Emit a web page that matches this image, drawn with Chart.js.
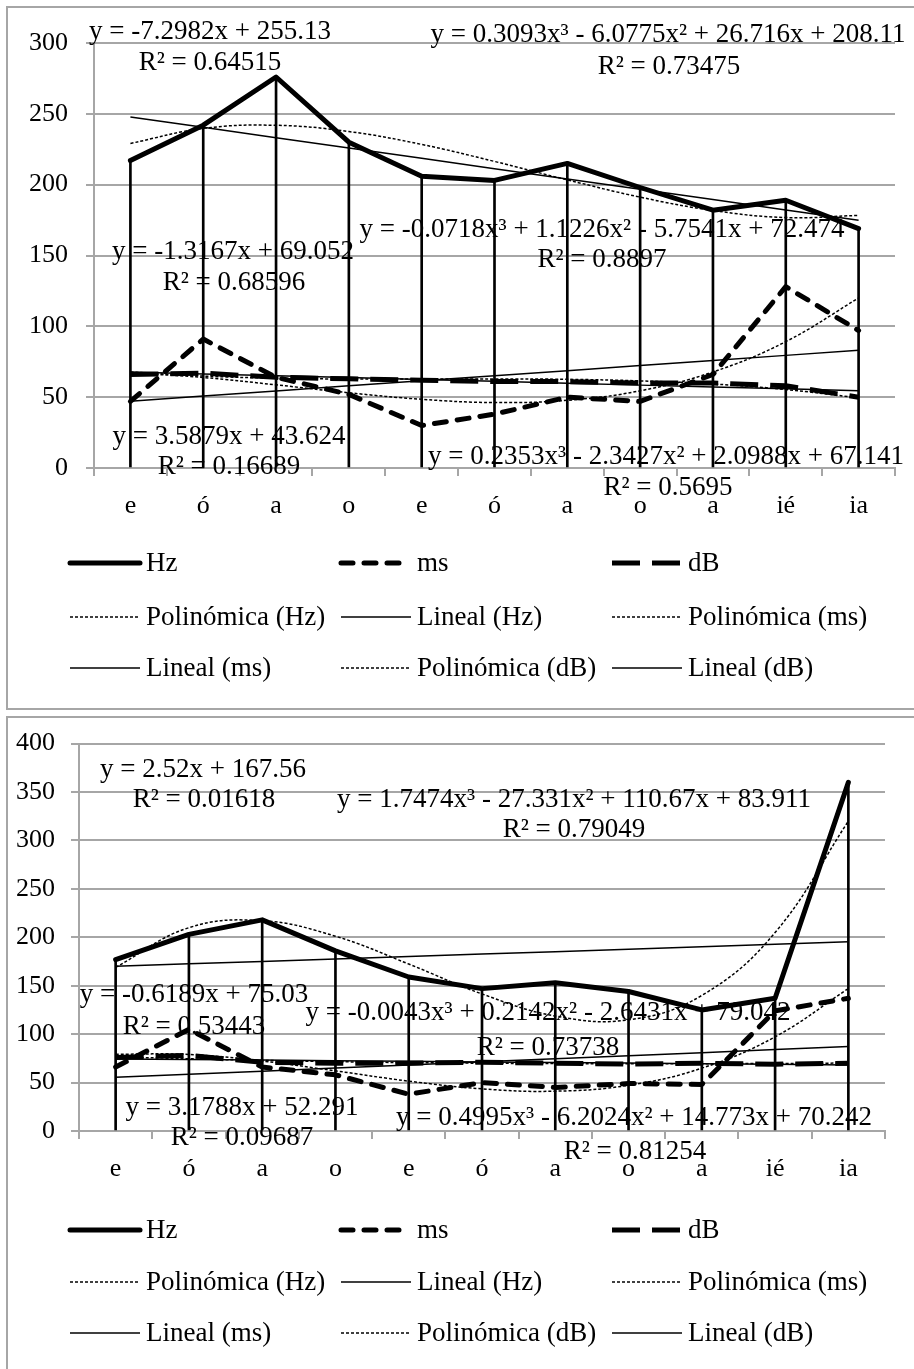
<!DOCTYPE html>
<html>
<head>
<meta charset="utf-8">
<script src="https://cdn.jsdelivr.net/npm/chart.js@4.4.1/dist/chart.umd.min.js"></script>
<style>
    html, body { margin: 0; padding: 0; background: #fff; }
    body { width: 914px; height: 1369px; position: relative; overflow: hidden; }
    .frame { position: absolute; border: 2px solid #a6a6a6; box-sizing: border-box; }
    #frame1 { left: 6px; top: 6px; width: 960px; height: 704px; }
    #frame2 { left: 6px; top: 716px; width: 960px; height: 720px; }
    canvas { position: absolute; left: 0; }
    #chart1 { top: 0; }
    #chart2 { top: 712px; }
</style>
</head>
<body>
<div class="frame" id="frame1"></div>
<div class="frame" id="frame2"></div>
<canvas id="chart1" width="914" height="712"></canvas>
<canvas id="chart2" width="914" height="657"></canvas>
<script>
const vowels = ['e', 'ó', 'a', 'o', 'e', 'ó', 'a', 'o', 'a', 'ié', 'ia'];

// first chart
const hz1 = [217, 242, 276, 230, 206, 203, 215, 198, 182, 189, 169];
const ms1 = [47, 91, 64, 52, 30, 38, 50, 47, 66, 128, 97];
const db1 = [66, 67, 64, 63, 62, 61, 61, 60, 60, 58, 50];
const hzPoly1 = [229.1, 239.7, 241.9, 237.5, 228.4, 216.4, 203.4, 191.2, 181.8, 176.8, 178.3];
const hzLin1 = [247.8, 240.5, 233.2, 225.9, 218.6, 211.3, 204.0, 196.7, 189.5, 182.2, 174.9];
const msPoly1 = [67.1, 63.9, 58.7, 53.1, 48.5, 46.2, 47.8, 54.5, 67.8, 89.2, 120.0];
const msLin1 = [47.2, 50.8, 54.4, 58.0, 61.6, 65.2, 68.7, 72.3, 75.9, 79.5, 83.1];
const dbPoly1 = [67.8, 64.9, 63.4, 62.8, 62.8, 62.9, 62.6, 61.5, 59.3, 55.4, 49.5];
const dbLin1 = [67.7, 66.4, 65.1, 63.8, 62.5, 61.2, 59.8, 58.5, 57.2, 55.9, 54.6];
const yTicks1 = [0, 300, 50];
const eqText1 = [
    'y = -7.2982x + 255.13', 'R² = 0.64515',
    'y = 0.3093x³ - 6.0775x² + 26.716x + 208.11', 'R² = 0.73475',
    'y = -1.3167x + 69.052', 'R² = 0.68596',
    'y = -0.0718x³ + 1.1226x² - 5.7541x + 72.474', 'R² = 0.8897',
    'y = 3.5879x + 43.624', 'R² = 0.16689',
    'y = 0.2353x³ - 2.3427x² + 2.0988x + 67.141', 'R² = 0.5695',
];

// second chart
const hz2 = [177, 203, 218, 186, 159, 147, 153, 144, 125, 137, 360];
const ms2 = [66, 105, 66, 58, 38, 50, 45, 49, 48, 124, 137];
const db2 = [76, 78, 71, 70, 70, 71, 70, 69, 70, 69, 70];
const hzPoly2 = [169.0, 209.9, 217.1, 201.1, 172.4, 141.5, 118.7, 114.8, 140.0, 204.9, 320.0];
const hzLin2 = [170.1, 172.6, 175.1, 177.6, 180.2, 182.7, 185.2, 187.7, 190.2, 192.8, 195.3];
const msPoly2 = [79.3, 79.0, 72.2, 62.1, 51.5, 43.5, 41.1, 47.2, 64.9, 97.2, 147.1];
const msLin2 = [55.5, 58.7, 61.8, 65.0, 68.2, 71.4, 74.5, 77.7, 80.9, 84.1, 87.3];
const dbPoly2 = [76.6, 74.6, 72.9, 71.6, 70.6, 70.0, 69.6, 69.4, 69.5, 69.7, 70.2];
const dbLin2 = [74.4, 73.8, 73.2, 72.6, 71.9, 71.3, 70.7, 70.1, 69.5, 68.8, 68.2];
const yTicks2 = [0, 400, 50];
const eqText2 = [
    'y = 2.52x + 167.56', 'R² = 0.01618',
    'y = 1.7474x³ - 27.331x² + 110.67x + 83.911', 'R² = 0.79049',
    'y = -0.6189x + 75.03', 'R² = 0.53443',
    'y = -0.0043x³ + 0.2142x² - 2.6431x + 79.042', 'R² = 0.73738',
    'y = 3.1788x + 52.291', 'R² = 0.09687',
    'y = 0.4995x³ - 6.2024x² + 14.773x + 70.242', 'R² = 0.81254',
];

const FONT = '"Liberation Serif", "DejaVu Serif", serif';
const GRID = '#a6a6a6';

const gridLegend = {
    id: 'gridLegend',
    afterDraw(chart, args, opts) {
        const ctx = chart.ctx;
        const items = chart.data.datasets.filter((d) => !d.hideInLegend);
        ctx.save();
        ctx.font = `27px ${FONT}`;
        ctx.textBaseline = 'middle';
        ctx.fillStyle = '#000';
        items.forEach((ds, i) => {
            const x = opts.columns[i % 3];
            const y = chart.chartArea.bottom + opts.rows[Math.floor(i / 3)];
            const dash = ds.borderDash || [];
            let len = opts.sampleWidth;
            if (dash.length && ds.borderWidth > 2) {
                // end the sample on a full dash
                const period = dash[0] + dash[1];
                len = Math.floor((len + dash[1]) / period) * period - dash[1];
            }
            ctx.beginPath();
            ctx.lineWidth = ds.borderWidth;
            ctx.strokeStyle = ds.borderColor;
            ctx.lineCap = ds.borderCapStyle || 'butt';
            ctx.setLineDash(dash);
            ctx.moveTo(x, y);
            ctx.lineTo(x + len, y);
            ctx.stroke();
            ctx.setLineDash([]);
            ctx.fillText(ds.label, x + opts.sampleWidth + opts.gap, y + 1);
        });
        ctx.restore();
    },
};

const equationLabels = {
    id: 'equationLabels',
    afterDatasetsDraw(chart, args, opts) {
        const ctx = chart.ctx;
        ctx.save();
        ctx.font = `27px ${FONT}`;
        ctx.textAlign = 'center';
        ctx.textBaseline = 'middle';
        ctx.fillStyle = '#000';
        opts.texts.forEach((t, i) => {
            ctx.fillText(t, opts.positions[i][0], opts.positions[i][1]);
        });
        ctx.restore();
    },
};

const line = (label, data, width, dash, cap, tension) => ({
    type: 'line',
    label,
    data,
    borderColor: '#000',
    borderWidth: width,
    borderDash: dash,
    borderCapStyle: cap,
    borderJoinStyle: 'round',
    pointRadius: 0,
    fill: false,
    tension,
});

const renderChart = (canvasId, series, yTicks, area, eq) => {
    const canvas = document.getElementById(canvasId);
    const [hz, ms, db, hzPoly, hzLin, msPoly, msLin, dbPoly, dbLin] = series;

    new Chart(canvas, {
        data: {
            labels: vowels,
            datasets: [
                line('Hz', hz, 5, [], 'round', 0),
                line('ms', ms, 5, [12, 11], 'round', 0),
                line('dB', db, 5, [28, 12], 'butt', 0),
                line('Polinómica (Hz)', hzPoly, 1.5, [3, 2], 'butt', 0.4),
                line('Lineal (Hz)', hzLin, 1.5, [], 'butt', 0),
                line('Polinómica (ms)', msPoly, 1.5, [3, 2], 'butt', 0.4),
                line('Lineal (ms)', msLin, 1.5, [], 'butt', 0),
                line('Polinómica (dB)', dbPoly, 1.5, [3, 2], 'butt', 0.4),
                line('Lineal (dB)', dbLin, 1.5, [], 'butt', 0),
                {
                    // drop lines
                    type: 'bar',
                    label: 'drop',
                    data: hz,
                    backgroundColor: '#000',
                    barThickness: 2,
                    hideInLegend: true,
                    order: 1,
                },
            ],
        },
        options: {
            responsive: false,
            animation: false,
            layout: {
                padding: { left: 0, right: area.right, top: area.top, bottom: area.bottom },
            },
            plugins: {
                legend: { display: false },
                tooltip: { enabled: false },
                gridLegend: {
                    columns: [70, 341, 612],
                    rows: area.legendRows,
                    sampleWidth: 70,
                    gap: 6,
                },
                equationLabels: eq,
            },
            scales: {
                x: {
                    offset: true,
                    afterFit: (s) => { s.height = 60; },
                    grid: {
                        offset: true,
                        drawOnChartArea: false,
                        tickLength: 8,
                        color: GRID,
                        lineWidth: 2,
                    },
                    border: { color: GRID, width: 2 },
                    ticks: {
                        color: '#000',
                        padding: 15,
                        maxRotation: 0,
                        autoSkip: false,
                        font: { family: FONT, size: 26 },
                    },
                },
                y: {
                    min: yTicks[0],
                    max: yTicks[1],
                    afterFit: (s) => { s.width = area.left; },
                    grid: { color: GRID, lineWidth: 2, tickLength: 8 },
                    border: { color: GRID, width: 2 },
                    ticks: {
                        stepSize: yTicks[2],
                        color: '#000',
                        padding: area.tickPad,
                        font: { family: FONT, size: 26 },
                    },
                },
            },
        },
        plugins: [gridLegend, equationLabels],
    });
};

renderChart(
    'chart1',
    [hz1, ms1, db1, hzPoly1, hzLin1, msPoly1, msLin1, dbPoly1, dbLin1],
    yTicks1,
    { left: 94, right: 19, top: 43, bottom: 184, tickPad: 18, legendRows: [95, 149, 200] },
    {
        texts: eqText1,
        positions: [
            [210, 32], [210, 63],
            [668, 35], [669, 67],
            [233, 252], [234, 283],
            [602, 230], [602, 260],
            [229, 437], [229, 467],
            [666, 457], [668, 488],
        ],
    }
);

renderChart(
    'chart2',
    [hz2, ms2, db2, hzPoly2, hzLin2, msPoly2, msLin2, dbPoly2, dbLin2],
    yTicks2,
    { left: 79, right: 29, top: 21, bottom: 178, tickPad: 16, legendRows: [99, 151, 202] },
    {
        texts: eqText2,
        positions: [
            [203, 58], [204, 88],
            [574, 88], [574, 118],
            [194, 283], [194, 315],
            [548, 301], [548, 336],
            [242, 396], [242, 426],
            [634, 406], [635, 440],
        ],
    }
);
</script>
</body>
</html>
